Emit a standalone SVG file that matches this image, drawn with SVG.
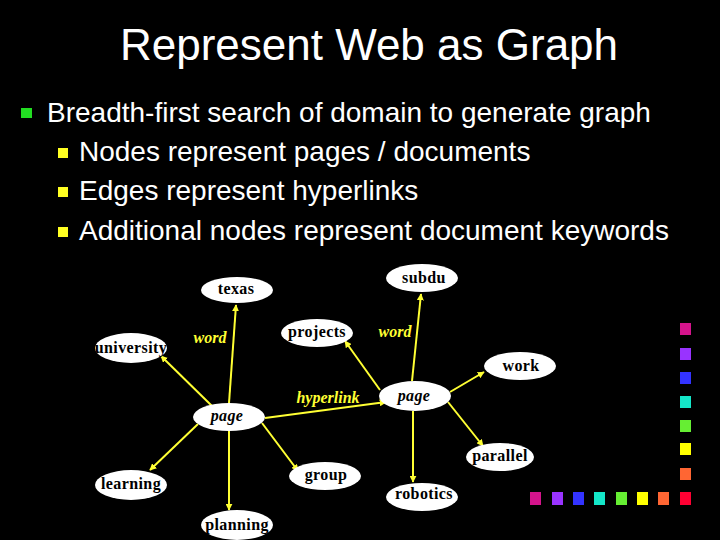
<svg xmlns="http://www.w3.org/2000/svg" width="720" height="540" viewBox="0 0 720 540">
<defs>
<marker id="ah" viewBox="0 0 10 10" refX="9" refY="5" markerWidth="7" markerHeight="7" markerUnits="userSpaceOnUse" orient="auto">
<path d="M0,0 L10,5 L0,10 z" fill="#ffff33"/>
</marker>
<style>
.head{font-family:"Liberation Sans",Arial,sans-serif;fill:#fff}
.nd ellipse{fill:#fff}
.nd text{font-family:"Liberation Serif","Times New Roman",serif;font-weight:bold;font-size:16px;fill:#000;text-anchor:middle;letter-spacing:0.4px}
.nd text.it{font-style:italic}
.lbl{font-family:"Liberation Serif","Times New Roman",serif;font-weight:bold;font-style:italic;font-size:16px;fill:#ffff33;text-anchor:middle}
#edges line{stroke:#ffff33;stroke-width:2;marker-end:url(#ah)}
</style>
</defs>
<rect width="720" height="540" fill="#000"/>
<text class="head" x="369" y="60" font-size="44" text-anchor="middle">Represent Web as Graph</text>
<rect x="21" y="108" width="11" height="10" fill="#22dd22"/>
<text class="head" x="47" y="122" font-size="28">Breadth-first search of domain to generate graph</text>
<rect x="58" y="148" width="10" height="10" fill="#ffff22"/>
<text class="head" x="79" y="161" font-size="28">Nodes represent pages / documents</text>
<rect x="58" y="187" width="10" height="10" fill="#ffff22"/>
<text class="head" x="79" y="200" font-size="28">Edges represent hyperlinks</text>
<rect x="58" y="227" width="10" height="10" fill="#ffff22"/>
<text class="head" x="79" y="240" font-size="28">Additional nodes represent document keywords</text>

<g id="edges">
<line x1="229" y1="403" x2="236" y2="305"/>
<line x1="212" y1="406" x2="161" y2="356"/>
<line x1="265" y1="418" x2="386" y2="402"/>
<line x1="380" y1="390" x2="345" y2="341"/>
<line x1="412" y1="381" x2="421" y2="294"/>
<line x1="450" y1="392" x2="484" y2="372"/>
<line x1="448" y1="402" x2="483" y2="446"/>
<line x1="413" y1="411" x2="413" y2="482"/>
<line x1="198" y1="424" x2="150" y2="470"/>
<line x1="229" y1="431" x2="229" y2="510"/>
<line x1="262" y1="423" x2="298" y2="471"/>
</g>
<text class="lbl" x="210" y="343">word</text>
<text class="lbl" x="395" y="337">word</text>
<text class="lbl" x="328" y="403">hyperlink</text>

<g id="texas" class="nd"><ellipse cx="237" cy="290" rx="36" ry="13"/><text x="236" y="294">texas</text></g>
<g id="university" class="nd"><ellipse cx="131" cy="348" rx="36" ry="15"/><text x="131" y="353">university</text></g>
<g id="subdu" class="nd"><ellipse cx="422" cy="278" rx="36" ry="14"/><text x="424" y="283">subdu</text></g>
<g id="projects" class="nd"><ellipse cx="317" cy="333" rx="36" ry="14"/><text x="317" y="337">projects</text></g>
<g id="work" class="nd"><ellipse cx="520" cy="366" rx="36" ry="14"/><text x="521" y="371">work</text></g>
<g id="page2" class="nd"><ellipse cx="415" cy="396" rx="36" ry="15"/><text class="it" x="414" y="401">page</text></g>
<g id="page1" class="nd"><ellipse cx="229" cy="417" rx="36" ry="14"/><text class="it" x="227" y="421">page</text></g>
<g id="parallel" class="nd"><ellipse cx="500" cy="457" rx="34" ry="14"/><text x="500" y="461">parallel</text></g>
<g id="learning" class="nd"><ellipse cx="131" cy="485" rx="36" ry="15"/><text x="131" y="489">learning</text></g>
<g id="planning" class="nd"><ellipse cx="237" cy="525" rx="36" ry="15"/><text x="237" y="530">planning</text></g>
<g id="group" class="nd"><ellipse cx="325" cy="476" rx="36" ry="14"/><text x="326" y="480">group</text></g>
<g id="robotics" class="nd"><ellipse cx="422" cy="497" rx="36" ry="14"/><text x="424" y="499">robotics</text></g>

<g id="squares">
<rect x="680" y="323" width="11" height="12" fill="#d4148c"/>
<rect x="680" y="348" width="11" height="12" fill="#9933ff"/>
<rect x="680" y="372" width="11" height="12" fill="#3333ff"/>
<rect x="680" y="396" width="11" height="12" fill="#14e6c8"/>
<rect x="680" y="420" width="11" height="12" fill="#66ee33"/>
<rect x="680" y="443" width="11" height="12" fill="#ffff00"/>
<rect x="680" y="468" width="11" height="12" fill="#ff6633"/>
<rect x="680" y="492" width="11" height="13" fill="#ff0033"/>
<rect x="530" y="492" width="11" height="13" fill="#d4148c"/>
<rect x="552" y="492" width="11" height="13" fill="#9933ff"/>
<rect x="573" y="492" width="11" height="13" fill="#3333ff"/>
<rect x="594" y="492" width="11" height="13" fill="#14e6c8"/>
<rect x="616" y="492" width="11" height="13" fill="#66ee33"/>
<rect x="637" y="492" width="11" height="13" fill="#ffff00"/>
<rect x="658" y="492" width="11" height="13" fill="#ff6633"/>
</g>
</svg>
